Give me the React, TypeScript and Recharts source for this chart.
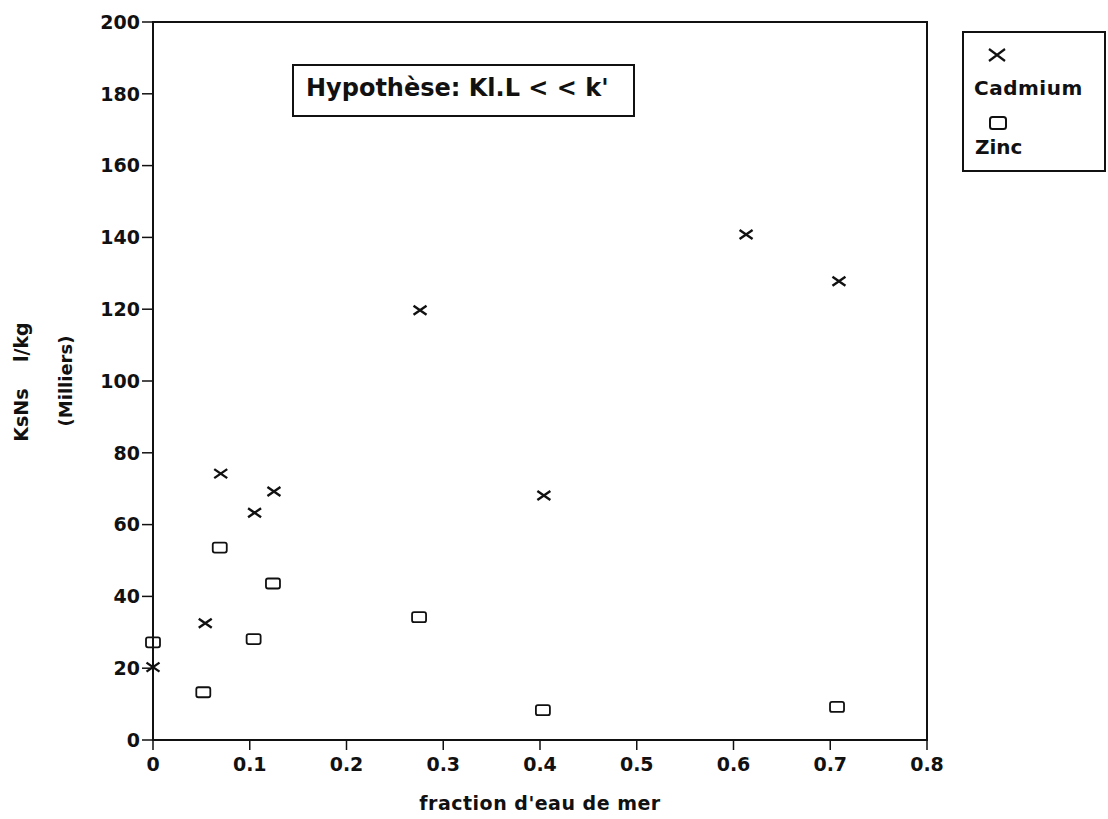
import React from "react";
import { ScatterChart, Scatter, XAxis, YAxis, ReferenceArea, Label } from "recharts";

const xTicks = [0, 0.1, 0.2, 0.3, 0.4, 0.5, 0.6, 0.7, 0.8];
const xTickLabels = ["0", "0.1", "0.2", "0.3", "0.4", "0.5", "0.6", "0.7", "0.8"];
const yTicks = [0, 20, 40, 60, 80, 100, 120, 140, 160, 180, 200];

const cadmiumX = [0, 0.054, 0.07, 0.105, 0.125, 0.276, 0.404, 0.613, 0.709];
const cadmiumY = [20.3, 32.5, 74.2, 63.3, 69.2, 119.7, 68.1, 140.8, 127.8];
const zincX = [0, 0.052, 0.069, 0.104, 0.124, 0.275, 0.403, 0.707];
const zincY = [27.2, 13.3, 53.6, 28.1, 43.6, 34.2, 8.3, 9.2];

const seriesNames = ["Cadmium", "Zinc"];
const xTitle = "fraction d'eau de mer";
const yTitle1 = "KsNs\u00A0\u00A0\u00A0\u00A0l/kg";
const yTitle2 = "(Milliers)";
const note = "Hypothèse: Kl.L < < k'";

const cadmiumData = cadmiumX.map((x, i) => ({ x, y: cadmiumY[i] }));
const zincData = zincX.map((x, i) => ({ x, y: zincY[i] }));

const FONT = "'DejaVu Sans', Arial, sans-serif";
const INK = "#111";

const CrossShape = (props: any) => {
  const { cx, cy } = props;
  if (cx == null || cy == null) return null;
  return (
    <path
      d={`M${cx - 6.5},${cy - 4.5}L${cx + 6.5},${cy + 4.5}M${cx - 6.5},${cy + 4.5}L${cx + 6.5},${cy - 4.5}`}
      stroke={INK}
      strokeWidth={2.4}
      fill="none"
    />
  );
};

const SquareShape = (props: any) => {
  const { cx, cy } = props;
  if (cx == null || cy == null) return null;
  return (
    <rect x={cx - 7} y={cy - 5} width={14} height={10} rx={2} ry={2} stroke={INK} strokeWidth={1.8} fill="none" />
  );
};

const LegendBox = () => (
  <svg width={145} height={142} style={{ display: "block" }}>
    <rect x={1} y={1} width={142} height={139} fill="#fff" stroke={INK} strokeWidth={2} />
    <path d="M27,18L43,30M27,30L43,18" stroke={INK} strokeWidth={2.2} fill="none" />
    <text x={12} y={64} fontFamily={FONT} fontSize={20} fontWeight="bold" fill={INK} letterSpacing={0.5}>
      {seriesNames[0]}
    </text>
    <rect x={28} y={86} width={16} height={12} rx={2.5} stroke={INK} strokeWidth={2} fill="none" />
    <text x={13} y={123} fontFamily={FONT} fontSize={20} fontWeight="bold" fill={INK}>
      {seriesNames[1]}
    </text>
  </svg>
);

const YTitle = () => (
  <g>
    <text
      transform="translate(28,382) rotate(-90)"
      textAnchor="middle"
      fontFamily={FONT}
      fontSize={19}
      fontWeight="bold"
      fill={INK}
    >
      {yTitle1}
    </text>
    <text
      transform="translate(72,381) rotate(-90)"
      textAnchor="middle"
      fontFamily={FONT}
      fontSize={18}
      fontWeight="bold"
      fill={INK}
    >
      {yTitle2}
    </text>
  </g>
);

export default function App() {
  return (
    <div style={{ position: "fixed", left: 0, top: 0, width: 1108, height: 819, background: "#fff" }}>
      <ScatterChart width={1108} height={819} margin={{ top: 22, right: 181, bottom: 0, left: 0 }}>
        <XAxis
          type="number"
          dataKey="x"
          domain={[0, 0.8]}
          ticks={xTicks}
          tickFormatter={(v: number) => xTickLabels[xTicks.indexOf(v)] ?? String(v)}
          height={79}
          tickSize={10}
          tickMargin={8}
          axisLine={{ stroke: INK, strokeWidth: 2 }}
          tickLine={{ stroke: INK, strokeWidth: 1.5 }}
          tick={{ fill: INK, fontSize: 19, fontFamily: FONT, fontWeight: "bold" }}
        >
          <Label
            value={xTitle}
            position="insideBottom"
            offset={9}
            style={{ fill: INK, fontSize: 19, fontFamily: FONT, fontWeight: "bold", letterSpacing: 0.5 }}
          />
        </XAxis>
        <YAxis
          type="number"
          dataKey="y"
          domain={[0, 200]}
          ticks={yTicks}
          width={153}
          tickSize={11}
          tickMargin={2}
          axisLine={{ stroke: INK, strokeWidth: 2 }}
          tickLine={{ stroke: INK, strokeWidth: 1.5 }}
          tick={{ fill: INK, fontSize: 19, fontFamily: FONT, fontWeight: "bold" }}
        >
          <Label content={() => <YTitle />} />
        </YAxis>
        <ReferenceArea
          x1={0}
          x2={0.8}
          y1={0}
          y2={200}
          fill="none"
          fillOpacity={0}
          stroke={INK}
          strokeWidth={2}
          ifOverflow="visible"
        />
        <Scatter name={seriesNames[1]} data={zincData} shape={SquareShape} isAnimationActive={false} />
        <Scatter name={seriesNames[0]} data={cadmiumData} shape={CrossShape} isAnimationActive={false} />
      </ScatterChart>
      <div style={{ position: "absolute", left: 962, top: 31 }}>
        <LegendBox />
      </div>
      <div
        style={{
          position: "absolute",
          left: 292,
          top: 64,
          width: 327,
          height: 49,
          border: `2px solid ${INK}`,
          background: "#fff",
          fontFamily: FONT,
          fontSize: 24,
          fontWeight: "bold",
          color: INK,
          lineHeight: "44px",
          paddingLeft: 12,
          boxSizing: "content-box",
          whiteSpace: "nowrap",
        }}
      >
        {note}
      </div>
    </div>
  );
}
